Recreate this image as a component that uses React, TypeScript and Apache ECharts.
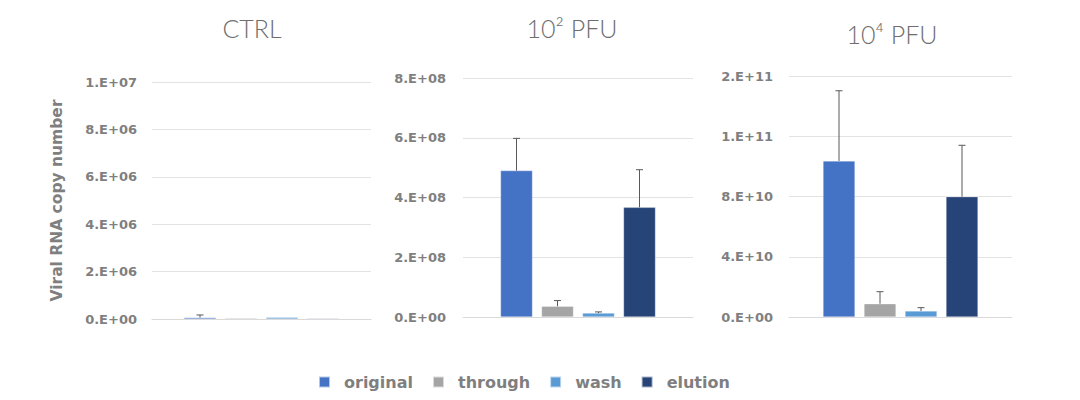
import React, { useEffect, useRef } from 'react';
import * as echarts from 'echarts';

// one chart per dose group, four fractions each
const panels = ['CTRL', '10² PFU', '10⁴ PFU'];
const fractions = ['original', 'through', 'wash', 'elution'];
const colors = ['#4472C4', '#A5A5A5', '#5B9BD5', '#264478'];

// mean values per panel, in fraction order
const ctrlValues = [6e4, 4e4, 7e4, 3e4];
const pfu2Values = [4.9e8, 0.36e8, 0.13e8, 3.67e8];
const pfu4Values = [1.036e11, 8.8e9, 4.0e9, 7.99e10];

// upper error (sd) per panel
const ctrlErrors = [1.1e5, 0, 0, 0];
const pfu2Errors = [1.08e8, 0.19e8, 0.04e8, 1.26e8];
const pfu4Errors = [4.66e10, 8.0e9, 2.2e9, 3.41e10];

// y axis ranges and tick labels
const ctrlMax = 1e7;
const ctrlStep = 2e6;
const ctrlTicks = ['0.E+00', '2.E+06', '4.E+06', '6.E+06', '8.E+06', '1.E+07'];
const pfu2Max = 8e8;
const pfu2Step = 2e8;
const pfu2Ticks = ['0.E+00', '2.E+08', '4.E+08', '6.E+08', '8.E+08'];
const pfu4Max = 1.6e11;
const pfu4Step = 4e10;
const pfu4Ticks = ['0.E+00', '4.E+10', '8.E+10', '1.E+11', '2.E+11'];

const FONT = 'DejaVu Sans';
const TITLE_FONT = 'Lato';
const TEXT = '#7F7F7F';
const BAR_W = 32;
const BAR_STEP = 41;

const App: React.FC = () => {
  const chartRef = useRef<HTMLDivElement>(null);

  useEffect(() => {
    document.body.style.margin = '0';
    if (!chartRef.current) return;
    const chart = echarts.init(chartRef.current, undefined, { renderer: 'svg' });

    const values = [ctrlValues, pfu2Values, pfu4Values];
    const errors = [ctrlErrors, pfu2Errors, pfu4Errors];
    const maxes = [ctrlMax, pfu2Max, pfu4Max];
    const steps = [ctrlStep, pfu2Step, pfu4Step];
    const ticks = [ctrlTicks, pfu2Ticks, pfu4Ticks];

    const grids = [
      { left: 152, width: 219, top: 82, height: 237 },
      { left: 463, width: 230, top: 78, height: 239 },
      { left: 789, width: 223, top: 76, height: 241 },
    ];
    const titlePos = [
      { x: 247, y: 10 },
      { x: 567, y: 10 },
      { x: 887, y: 16 },
    ];
    const labelMargins = [15, 17, 16];

    const series: any[] = [];
    panels.forEach((p, gi) => {
      fractions.forEach((f, si) => {
        series.push({
          name: f,
          type: 'bar',
          xAxisIndex: gi,
          yAxisIndex: gi,
          barWidth: BAR_W,
          barGap: ((BAR_STEP - BAR_W) / BAR_W) * 100 + '%',
          data: [values[gi][si]],
          itemStyle: { color: colors[si], borderColor: 'rgba(255,255,255,0.6)', borderWidth: 0.5 },
        });
      });
      series.push({
        type: 'custom',
        xAxisIndex: gi,
        yAxisIndex: gi,
        z: 5,
        data: fractions.map((f, si) => [0, values[gi][si], errors[gi][si], si]),
        renderItem: (params: any, api: any) => {
          const v = api.value(1);
          const e = api.value(2);
          const si = api.value(3);
          if (!e) return null;
          const base = api.coord([0, v]);
          const top = api.coord([0, v + e]);
          const x = base[0] + (si - 1.5) * BAR_STEP;
          const style = { stroke: '#595959', lineWidth: 1 };
          return {
            type: 'group',
            children: [
              { type: 'line', shape: { x1: x, y1: base[1], x2: x, y2: top[1] }, style },
              { type: 'line', shape: { x1: x - 3.5, y1: top[1], x2: x + 3.5, y2: top[1] }, style },
            ],
          };
        },
      });
    });

    chart.setOption({
      animation: false,
      textStyle: { fontFamily: FONT },
      title: panels.map((p, i) => ({
        text: p,
        left: titlePos[i].x,
        top: titlePos[i].y,
        textAlign: 'center',
        textStyle: { fontFamily: TITLE_FONT, fontSize: 25, fontWeight: 300, color: '#6E6E6E' },
      })),
      legend: {
        data: fractions,
        left: 313,
        top: 369,
        icon: 'rect',
        itemWidth: 11,
        itemHeight: 11,
        itemGap: 19,
        textStyle: {
          fontFamily: FONT,
          fontSize: 16,
          fontWeight: 'bold',
          color: TEXT,
          padding: [0, 0, 0, 9],
        },
      },
      grid: grids.map((g) => ({ ...g, containLabel: false })),
      xAxis: panels.map((p, i) => ({
        type: 'category',
        gridIndex: i,
        data: [p],
        axisLabel: { show: false },
        axisTick: { show: false },
        axisLine: { lineStyle: { color: '#D9D9D9' } },
      })),
      yAxis: panels.map((p, i) => ({
        type: 'value',
        gridIndex: i,
        min: 0,
        max: maxes[i],
        interval: steps[i],
        name: i === 0 ? 'Viral RNA copy number' : '',
        nameLocation: 'middle',
        nameRotate: 90,
        nameGap: 87,
        nameTextStyle: { fontFamily: FONT, fontSize: 15.5, fontWeight: 'bold', color: TEXT },
        axisLine: { show: false },
        axisTick: { show: false },
        axisLabel: {
          margin: labelMargins[i],
          fontFamily: FONT,
          fontSize: 13,
          fontWeight: 'bold',
          color: TEXT,
          formatter: (v: number) => ticks[i][Math.round(v / steps[i])] ?? '',
        },
        splitLine: { lineStyle: { color: '#E3E3E3' } },
      })),
      series,
    });

    return () => {
      chart.dispose();
    };
  }, []);

  return <div ref={chartRef} style={{ width: '1080px', height: '400px' }} />;
};

export default App;
